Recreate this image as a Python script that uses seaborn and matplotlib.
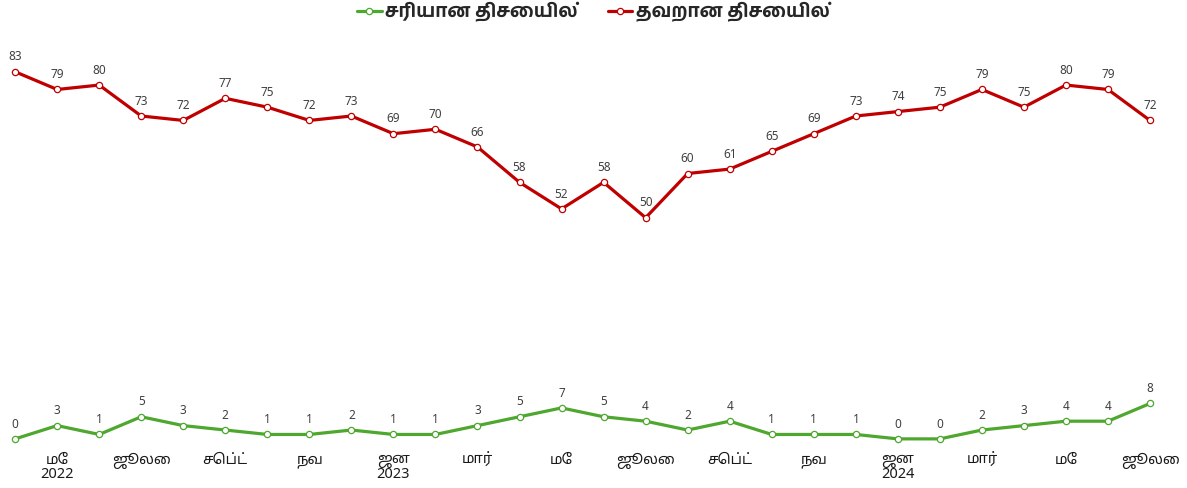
import matplotlib
matplotlib.use("Agg")
import numpy as np
import pandas as pd
import seaborn as sns
import matplotlib.pyplot as plt
from matplotlib.lines import Line2D

# monthly, April 2022 .. July 2024
right_dir = [0, 3, 1, 5, 3, 2, 1, 1, 2, 1, 1, 3, 5, 7, 5, 4, 2, 4, 1, 1, 1, 0, 0, 2, 3, 4, 4, 8]
wrong_dir = [83, 79, 80, 73, 72, 77, 75, 72, 73, 69, 70, 66, 58, 52, 58, 50, 60, 61, 65, 69,
             73, 74, 75, 79, 75, 80, 79, 72]
tick_pos = [1, 3, 5, 7, 9, 11, 13, 15, 17, 19, 21, 23, 25, 27]
tick_labels = ["மே\n2022", "ஜூலை", "செப்ட்", "நவ", "ஜன\n2023", "மார்", "மே",
               "ஜூலை", "செப்ட்", "நவ", "ஜன\n2024", "மார்", "மே", "ஜூலை"]
series_names = ["சரியான திசையில்", "தவறான திசையில்"]
colors = ["#4ea72e", "#c00000"]

sns.set_style("white")
plt.rcParams["font.family"] = ["Noto Sans", "Noto Sans Tamil", "DejaVu Sans"]

df = pd.DataFrame({"month": np.arange(len(right_dir)),
                   series_names[0]: right_dir,
                   series_names[1]: wrong_dir})
long = df.melt(id_vars="month", var_name="series", value_name="value")

fig = plt.figure(figsize=(11.87, 4.88), dpi=100)
ax = fig.add_axes([0, 0.078, 1, 0.861])

sns.lineplot(data=long, x="month", y="value", hue="series", palette=colors,
             linewidth=2.3, marker="o", markersize=4.5, markerfacecolor="white",
             markeredgewidth=0.9, legend=False, ax=ax)
# marker edges in series colour
for line, c in zip(ax.lines, colors):
    line.set_markeredgecolor(c)

for vals in (right_dir, wrong_dir):
    for i, v in enumerate(vals):
        ax.annotate(f"{v:.0f}", (i, v), xytext=(0, 6), textcoords="offset points",
                    ha="center", va="bottom", fontsize=8.5, color="#404040")

ax.set_xlim(-0.36, 27.88)
ax.set_ylim(-2.5, 92.5)
ax.set_xticks(tick_pos)
ax.set_xticklabels(tick_labels, fontsize=10.5, color="#1a1a1a", linespacing=0.95)
ax.tick_params(axis="x", length=0, pad=2)
ax.set_yticks([])
ax.set_xlabel("")
ax.set_ylabel("")
for s in ax.spines.values():
    s.set_visible(False)

handles = [Line2D([0], [0], color=c, lw=2.3, marker="o", markersize=4.5,
                  markerfacecolor="white", markeredgecolor=c, markeredgewidth=0.9)
           for c in colors]
fig.legend(handles, series_names, loc="upper center", bbox_to_anchor=(0.5, 1.03),
           ncol=2, frameon=False, handlelength=1.3, handletextpad=0.2,
           columnspacing=1.6,
           prop={"size": 13.5, "weight": "bold", "family": ["Noto Sans", "Hind Madurai"]})

fig.savefig("out.png", dpi=100)
